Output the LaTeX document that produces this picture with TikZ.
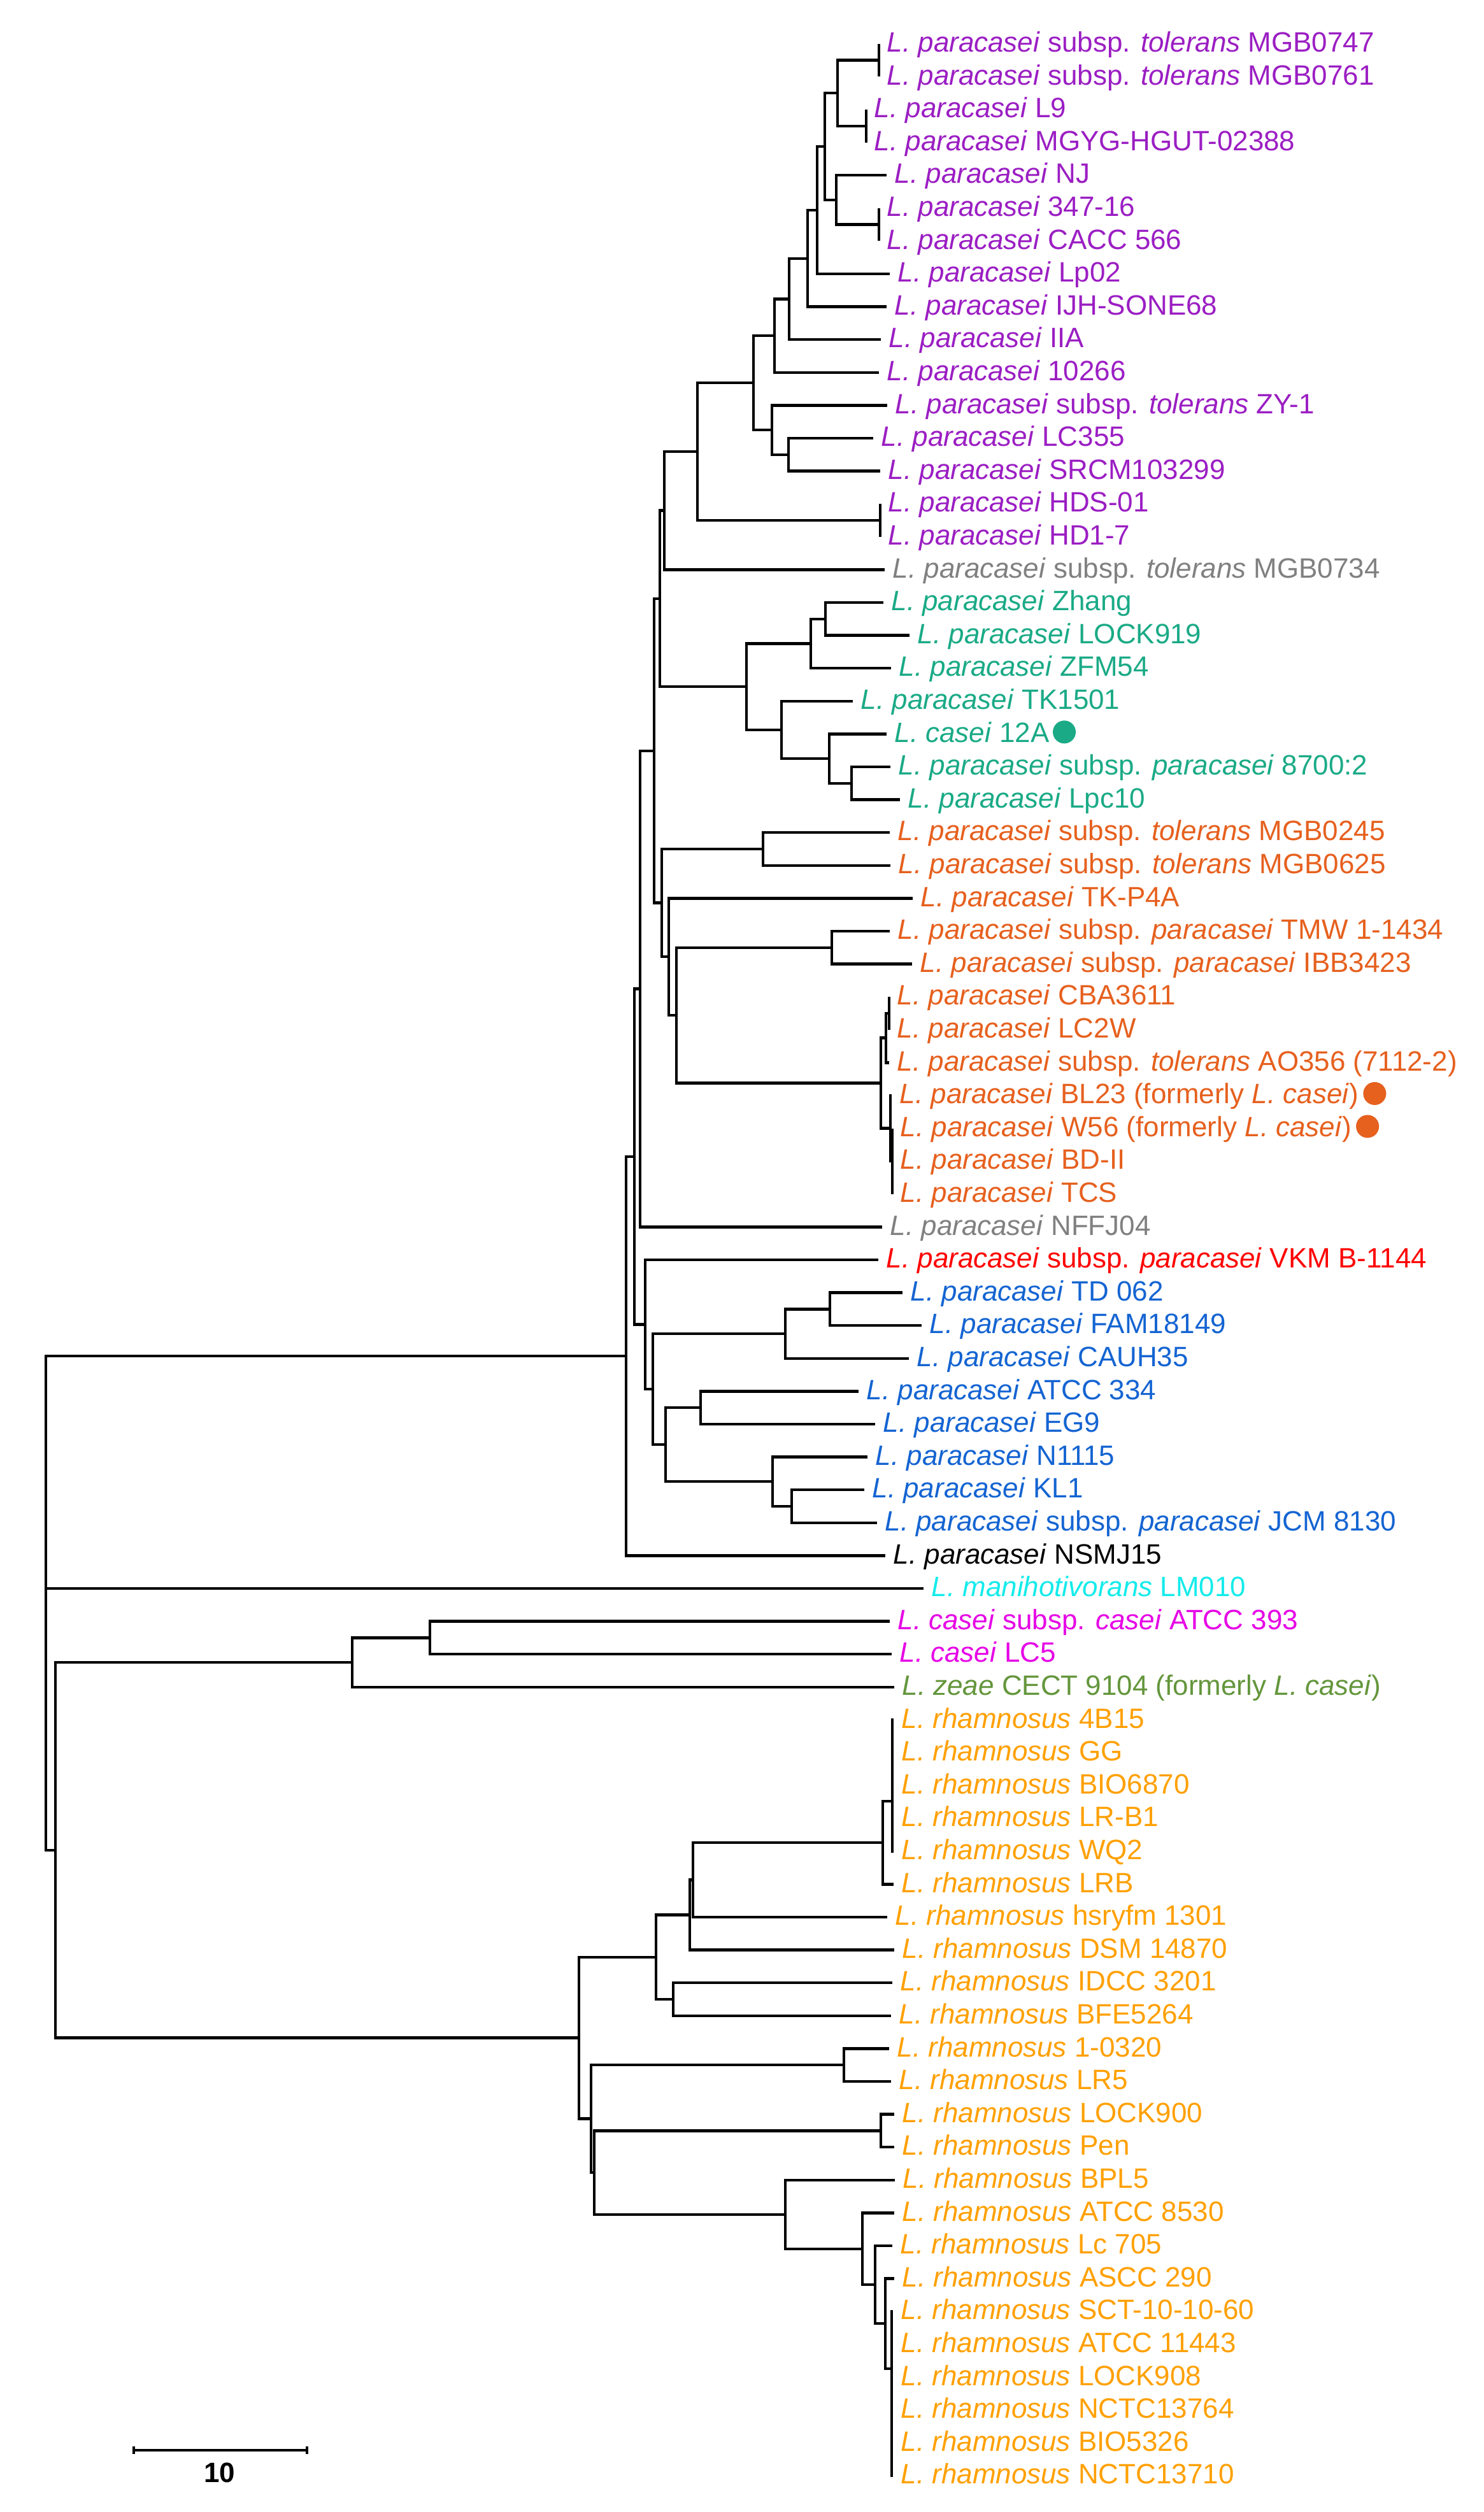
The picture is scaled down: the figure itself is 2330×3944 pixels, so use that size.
\documentclass[tikz,border=0pt]{standalone}
\usepackage{fontspec}
\setmainfont{Liberation Sans}
\definecolor{cP}{RGB}{155,30,195}
\definecolor{cG}{RGB}{128,128,128}
\definecolor{cT}{RGB}{26,170,134}
\definecolor{cO}{RGB}{230,96,30}
\definecolor{cR}{RGB}{255,0,0}
\definecolor{cB}{RGB}{20,100,210}
\definecolor{cC}{RGB}{20,235,235}
\definecolor{cM}{RGB}{230,0,230}
\definecolor{cZ}{RGB}{100,150,60}
\definecolor{cY}{RGB}{255,160,0}
\newcommand\LPa{\textit{L. paracasei}}
\newcommand\LRh{\textit{L. rhamnosus}}
\newcommand\sspT{subsp. \textit{tolerans}}
\newcommand\sspP{subsp. \textit{paracasei}}
\tikzset{
  br/.style={line width=1.25pt, black},
  lab/.style={anchor=west, inner sep=0pt, xshift=0.12cm, yshift=0.03cm, text height=8.95pt, text depth=0pt,
              font=\fontsize{12.5}{15}\selectfont},
  dotm/.style={circle, inner sep=0pt, minimum size=0.36cm, anchor=west}
}
\begin{document}
\begin{tikzpicture}[x=0.01cm, y=-0.01cm]
\fill[white] (0,0) rectangle (2330,3944);
\useasboundingbox (0,0) rectangle (2330,3944);
% ---------- leaf tips ----------
\coordinate (t1) at (1380,68.7);
\coordinate (t2) at (1380,120.3);
\coordinate (t3) at (1360,171.9);
\coordinate (t4) at (1360,223.5);
\coordinate (t5) at (1392,275.1);
\coordinate (t6) at (1380,326.7);
\coordinate (t7) at (1380,378.3);
\coordinate (t8) at (1397,429.9);
\coordinate (t9) at (1392,481.5);
\coordinate (t10) at (1383,533.1);
\coordinate (t11) at (1380,584.7);
\coordinate (t12) at (1393,636.3);
\coordinate (t13) at (1371,687.9);
\coordinate (t14) at (1382,739.5);
\coordinate (t15) at (1382,791.1);
\coordinate (t16) at (1382,842.7);
\coordinate (t17) at (1389,894.3);
\coordinate (t18) at (1387,945.9);
\coordinate (t19) at (1428,997.5);
\coordinate (t20) at (1399,1049.1);
\coordinate (t21) at (1339,1100.7);
\coordinate (t22) at (1392,1152.3);
\coordinate (t23) at (1398,1203.9);
\coordinate (t24) at (1413,1255.5);
\coordinate (t25) at (1397,1307.1);
\coordinate (t26) at (1398,1358.7);
\coordinate (t27) at (1433,1410.3);
\coordinate (t28) at (1397,1461.9);
\coordinate (t29) at (1432,1513.5);
\coordinate (t30) at (1396,1565.1);
\coordinate (t31) at (1396,1616.7);
\coordinate (t32) at (1396,1668.3);
\coordinate (t33) at (1400,1719.9);
\coordinate (t34) at (1401,1771.5);
\coordinate (t35) at (1401,1823.1);
\coordinate (t36) at (1401,1874.7);
\coordinate (t37) at (1385,1926.3);
\coordinate (t38) at (1379,1977.9);
\coordinate (t39) at (1417,2029.5);
\coordinate (t40) at (1447,2081.1);
\coordinate (t41) at (1427,2132.7);
\coordinate (t42) at (1348,2184.3);
\coordinate (t43) at (1374,2235.9);
\coordinate (t44) at (1362,2287.5);
\coordinate (t45) at (1357,2339.1);
\coordinate (t46) at (1377,2390.7);
\coordinate (t47) at (1390,2442.3);
\coordinate (t48) at (1450,2493.9);
\coordinate (t49) at (1397,2545.5);
\coordinate (t50) at (1400,2597.1);
\coordinate (t51) at (1404,2648.7);
\coordinate (t52) at (1403,2700.3);
\coordinate (t53) at (1403,2751.9);
\coordinate (t54) at (1403,2803.5);
\coordinate (t55) at (1403,2855.1);
\coordinate (t56) at (1403,2906.7);
\coordinate (t57) at (1403,2958.3);
\coordinate (t58) at (1393,3009.9);
\coordinate (t59) at (1404,3061.5);
\coordinate (t60) at (1401,3113.1);
\coordinate (t61) at (1399,3164.7);
\coordinate (t62) at (1396,3216.3);
\coordinate (t63) at (1399,3267.9);
\coordinate (t64) at (1404,3319.5);
\coordinate (t65) at (1404,3371.1);
\coordinate (t66) at (1405,3422.7);
\coordinate (t67) at (1404,3474.3);
\coordinate (t68) at (1401,3525.9);
\coordinate (t69) at (1404,3577.5);
\coordinate (t70) at (1402,3629.1);
\coordinate (t71) at (1402,3680.7);
\coordinate (t72) at (1402,3732.3);
\coordinate (t73) at (1402,3783.9);
\coordinate (t74) at (1402,3835.5);
\coordinate (t75) at (1402,3887.1);
% ---------- internal nodes ----------
\coordinate (n12) at (1380,94.5);
\coordinate (n34) at (1360,197.7);
\coordinate (n1234) at (1315,146.1);
\coordinate (n67) at (1380,352.5);
\coordinate (n567) at (1313,313.8);
\coordinate (n1x7) at (1295,229.95);
\coordinate (n1x8) at (1283,329.9);
\coordinate (n1x9) at (1268,405.7);
\coordinate (n1x10) at (1239,469.4);
\coordinate (n1x11) at (1216,527.05);
\coordinate (n13x14) at (1238,713.7);
\coordinate (n12x14) at (1212,675);
\coordinate (n1x14) at (1183,601);
\coordinate (n15x16) at (1382,816.9);
\coordinate (n1x16) at (1095,708.95);
\coordinate (n1x17) at (1043,801.6);
\coordinate (t18x19) at (1296,971.7);
\coordinate (t18x20) at (1273,1010.4);
\coordinate (t23x24) at (1337,1229.7);
\coordinate (t22x24) at (1302,1191);
\coordinate (t21x24) at (1227,1145.85);
\coordinate (t18x24) at (1172,1078.1);
\coordinate (NA) at (1036,939.85);
\coordinate (o25x26) at (1198,1332.9);
\coordinate (o28x29) at (1306,1487.7);
\coordinate (o30x31) at (1396,1590.9);
\coordinate (o30x32) at (1391,1629.6);
\coordinate (o34x36) at (1401,1823.1);
\coordinate (o33x36) at (1398,1771.5);
\coordinate (o4) at (1383,1700.6);
\coordinate (o3) at (1062,1594.1);
\coordinate (o2) at (1050,1502.2);
\coordinate (o1) at (1039,1417.6);
\coordinate (NB) at (1027,1178.7);
\coordinate (NC) at (1005,1552.5);
\coordinate (b39x40) at (1303,2055.3);
\coordinate (b39x41) at (1233,2094);
\coordinate (b42x43) at (1100,2210.1);
\coordinate (b45x46) at (1243,2364.9);
\coordinate (b44x46) at (1213,2326.2);
\coordinate (b42x46) at (1045,2268.15);
\coordinate (b39x46) at (1025,2181.1);
\coordinate (b38x46) at (1013,2079.5);
\coordinate (ND) at (996,1816);
\coordinate (NE) at (983,2129.15);
\coordinate (root) at (72,2493.9);
\coordinate (Q) at (87,2904.8);
\coordinate (c49x50) at (675,2571.3);
\coordinate (c49x51) at (553,2610);
\coordinate (rh) at (909,3199.6);
\coordinate (rU1) at (1030,3072.7);
\coordinate (rR2) at (1083,3006.5);
\coordinate (rR1) at (1088,2951.5);
\coordinate (rS) at (1386,2893.15);
\coordinate (r52x56) at (1401,2828);
\coordinate (r60x61) at (1057,3138.9);
\coordinate (rT1) at (928,3326.55);
\coordinate (r62x63) at (1325,3242.1);
\coordinate (rT2) at (933,3411);
\coordinate (r64x65) at (1383,3345.3);
\coordinate (rU) at (1233,3476.7);
\coordinate (rV) at (1354,3530.7);
\coordinate (rW) at (1374,3587.1);
\coordinate (rX) at (1390,3648.25);
\coordinate (r70x75) at (1400,3719);
% ---------- branches ----------
\begin{scope}[br]
\foreach \p/\c in {n12/t1,n12/t2,n34/t3,n34/t4,n1234/n12,n1234/n34,n67/t6,n67/t7,
  n567/t5,n567/n67,n1x7/n1234,n1x7/n567,n1x8/n1x7,n1x8/t8,n1x9/n1x8,n1x9/t9,
  n1x10/n1x9,n1x10/t10,n1x11/n1x10,n1x11/t11,n13x14/t13,n13x14/t14,n12x14/t12,
  n12x14/n13x14,n1x14/n1x11,n1x14/n12x14,n15x16/t15,n15x16/t16,n1x16/n1x14,
  n1x16/n15x16,n1x17/n1x16,n1x17/t17,
  t18x19/t18,t18x19/t19,t18x20/t18x19,t18x20/t20,t23x24/t23,t23x24/t24,
  t22x24/t22,t22x24/t23x24,t21x24/t21,t21x24/t22x24,t18x24/t18x20,t18x24/t21x24,
  NA/n1x17,NA/t18x24,
  o25x26/t25,o25x26/t26,o28x29/t28,o28x29/t29,o30x31/t30,o30x31/t31,
  o30x32/o30x31,o30x32/t32,o34x36/t34,o34x36/t35,o34x36/t36,o33x36/t33,
  o33x36/o34x36,o4/o30x32,o4/o33x36,o3/o28x29,o3/o4,o2/t27,o2/o3,
  o1/o25x26,o1/o2,NB/NA,NB/o1,NC/NB,NC/t37,
  b39x40/t39,b39x40/t40,b39x41/b39x40,b39x41/t41,b42x43/t42,b42x43/t43,
  b45x46/t45,b45x46/t46,b44x46/t44,b44x46/b45x46,b42x46/b42x43,b42x46/b44x46,
  b39x46/b39x41,b39x46/b42x46,b38x46/t38,b38x46/b39x46,ND/NC,ND/b38x46,
  NE/ND,NE/t47,root/NE,root/t48,root/Q,
  c49x50/t49,c49x50/t50,c49x51/c49x50,c49x51/t51,Q/c49x51,Q/rh,
  rh/rU1,rh/rT1,rU1/rR2,rU1/r60x61,rR2/rR1,rR2/t59,rR1/rS,rR1/t58,
  rS/r52x56,rS/t57,r52x56/t52,r52x56/t53,r52x56/t54,r52x56/t55,r52x56/t56,
  r60x61/t60,r60x61/t61,rT1/r62x63,rT1/rT2,r62x63/t62,r62x63/t63,
  rT2/r64x65,rT2/rU,r64x65/t64,r64x65/t65,rU/t66,rU/rV,rV/t67,rV/rW,
  rW/t68,rW/rX,rX/t69,rX/r70x75,
  r70x75/t70,r70x75/t71,r70x75/t72,r70x75/t73,r70x75/t74,r70x75/t75}
  \draw (\p) |- (\c);
\end{scope}
% ---------- labels ----------
\node[lab, text=cP] (l1) at (t1) {\LPa{} \sspT{} MGB0747};
\node[lab, text=cP] (l2) at (t2) {\LPa{} \sspT{} MGB0761};
\node[lab, text=cP] (l3) at (t3) {\LPa{} L9};
\node[lab, text=cP] (l4) at (t4) {\LPa{} MGYG-HGUT-02388};
\node[lab, text=cP] (l5) at (t5) {\LPa{} NJ};
\node[lab, text=cP] (l6) at (t6) {\LPa{} 347-16};
\node[lab, text=cP] (l7) at (t7) {\LPa{} CACC 566};
\node[lab, text=cP] (l8) at (t8) {\LPa{} Lp02};
\node[lab, text=cP] (l9) at (t9) {\LPa{} IJH-SONE68};
\node[lab, text=cP] (l10) at (t10) {\LPa{} IIA};
\node[lab, text=cP] (l11) at (t11) {\LPa{} 10266};
\node[lab, text=cP] (l12) at (t12) {\LPa{} \sspT{} ZY-1};
\node[lab, text=cP] (l13) at (t13) {\LPa{} LC355};
\node[lab, text=cP] (l14) at (t14) {\LPa{} SRCM103299};
\node[lab, text=cP] (l15) at (t15) {\LPa{} HDS-01};
\node[lab, text=cP] (l16) at (t16) {\LPa{} HD1-7};
\node[lab, text=cG] (l17) at (t17) {\LPa{} \sspT{} MGB0734};
\node[lab, text=cT] (l18) at (t18) {\LPa{} Zhang};
\node[lab, text=cT] (l19) at (t19) {\LPa{} LOCK919};
\node[lab, text=cT] (l20) at (t20) {\LPa{} ZFM54};
\node[lab, text=cT] (l21) at (t21) {\LPa{} TK1501};
\node[lab, text=cT] (l22) at (t22) {\textit{L. casei} 12A};
\node[lab, text=cT] (l23) at (t23) {\LPa{} \sspP{} 8700:2};
\node[lab, text=cT] (l24) at (t24) {\LPa{} Lpc10};
\node[lab, text=cO] (l25) at (t25) {\LPa{} \sspT{} MGB0245};
\node[lab, text=cO] (l26) at (t26) {\LPa{} \sspT{} MGB0625};
\node[lab, text=cO] (l27) at (t27) {\LPa{} TK-P4A};
\node[lab, text=cO] (l28) at (t28) {\LPa{} \sspP{} TMW 1-1434};
\node[lab, text=cO] (l29) at (t29) {\LPa{} \sspP{} IBB3423};
\node[lab, text=cO] (l30) at (t30) {\LPa{} CBA3611};
\node[lab, text=cO] (l31) at (t31) {\LPa{} LC2W};
\node[lab, text=cO] (l32) at (t32) {\LPa{} \sspT{} AO356 (7112-2)};
\node[lab, text=cO] (l33) at (t33) {\LPa{} BL23 (formerly \textit{L. casei})};
\node[lab, text=cO] (l34) at (t34) {\LPa{} W56 (formerly \textit{L. casei})};
\node[lab, text=cO] (l35) at (t35) {\LPa{} BD-II};
\node[lab, text=cO] (l36) at (t36) {\LPa{} TCS};
\node[lab, text=cG] (l37) at (t37) {\LPa{} NFFJ04};
\node[lab, text=cR] (l38) at (t38) {\LPa{} \sspP{} VKM B-1144};
\node[lab, text=cB] (l39) at (t39) {\LPa{} TD 062};
\node[lab, text=cB] (l40) at (t40) {\LPa{} FAM18149};
\node[lab, text=cB] (l41) at (t41) {\LPa{} CAUH35};
\node[lab, text=cB] (l42) at (t42) {\LPa{} ATCC 334};
\node[lab, text=cB] (l43) at (t43) {\LPa{} EG9};
\node[lab, text=cB] (l44) at (t44) {\LPa{} N1115};
\node[lab, text=cB] (l45) at (t45) {\LPa{} KL1};
\node[lab, text=cB] (l46) at (t46) {\LPa{} \sspP{} JCM 8130};
\node[lab, text=black] (l47) at (t47) {\LPa{} NSMJ15};
\node[lab, text=cC] (l48) at (t48) {\textit{L. manihotivorans} LM010};
\node[lab, text=cM] (l49) at (t49) {\textit{L. casei} subsp. \textit{casei} ATCC 393};
\node[lab, text=cM] (l50) at (t50) {\textit{L. casei} LC5};
\node[lab, text=cZ] (l51) at (t51) {\textit{L. zeae} CECT 9104 (formerly \textit{L. casei})};
\node[lab, text=cY] (l52) at (t52) {\LRh{} 4B15};
\node[lab, text=cY] (l53) at (t53) {\LRh{} GG};
\node[lab, text=cY] (l54) at (t54) {\LRh{} BIO6870};
\node[lab, text=cY] (l55) at (t55) {\LRh{} LR-B1};
\node[lab, text=cY] (l56) at (t56) {\LRh{} WQ2};
\node[lab, text=cY] (l57) at (t57) {\LRh{} LRB};
\node[lab, text=cY] (l58) at (t58) {\LRh{} hsryfm 1301};
\node[lab, text=cY] (l59) at (t59) {\LRh{} DSM 14870};
\node[lab, text=cY] (l60) at (t60) {\LRh{} IDCC 3201};
\node[lab, text=cY] (l61) at (t61) {\LRh{} BFE5264};
\node[lab, text=cY] (l62) at (t62) {\LRh{} 1-0320};
\node[lab, text=cY] (l63) at (t63) {\LRh{} LR5};
\node[lab, text=cY] (l64) at (t64) {\LRh{} LOCK900};
\node[lab, text=cY] (l65) at (t65) {\LRh{} Pen};
\node[lab, text=cY] (l66) at (t66) {\LRh{} BPL5};
\node[lab, text=cY] (l67) at (t67) {\LRh{} ATCC 8530};
\node[lab, text=cY] (l68) at (t68) {\LRh{} Lc 705};
\node[lab, text=cY] (l69) at (t69) {\LRh{} ASCC 290};
\node[lab, text=cY] (l70) at (t70) {\LRh{} SCT-10-10-60};
\node[lab, text=cY] (l71) at (t71) {\LRh{} ATCC 11443};
\node[lab, text=cY] (l72) at (t72) {\LRh{} LOCK908};
\node[lab, text=cY] (l73) at (t73) {\LRh{} NCTC13764};
\node[lab, text=cY] (l74) at (t74) {\LRh{} BIO5326};
\node[lab, text=cY] (l75) at (t75) {\LRh{} NCTC13710};
% ---------- markers ----------
\node[dotm, fill=cT] (d22) at ([xshift=0.04cm]l22.east) {};
\node[dotm, fill=cO] (d33) at ([xshift=0.06cm]l33.east) {};
\node[dotm, fill=cO] (d34) at ([xshift=0.06cm]l34.east) {};
% ---------- scale bar ----------
\coordinate (sb1) at (210,3846.7);
\coordinate (sb2) at (482,3846.7);
\draw[line width=1.25pt] (sb1) -- (sb2);
\draw[line width=1.25pt] ([yshift=0.06cm]sb1) -- ([yshift=-0.06cm]sb1);
\draw[line width=1.25pt] ([yshift=0.06cm]sb2) -- ([yshift=-0.06cm]sb2);
\node[font=\fontsize{12.5}{15}\selectfont\bfseries, inner sep=0pt] (sbl) at (345,3882) {10};
\end{tikzpicture}
\end{document}
